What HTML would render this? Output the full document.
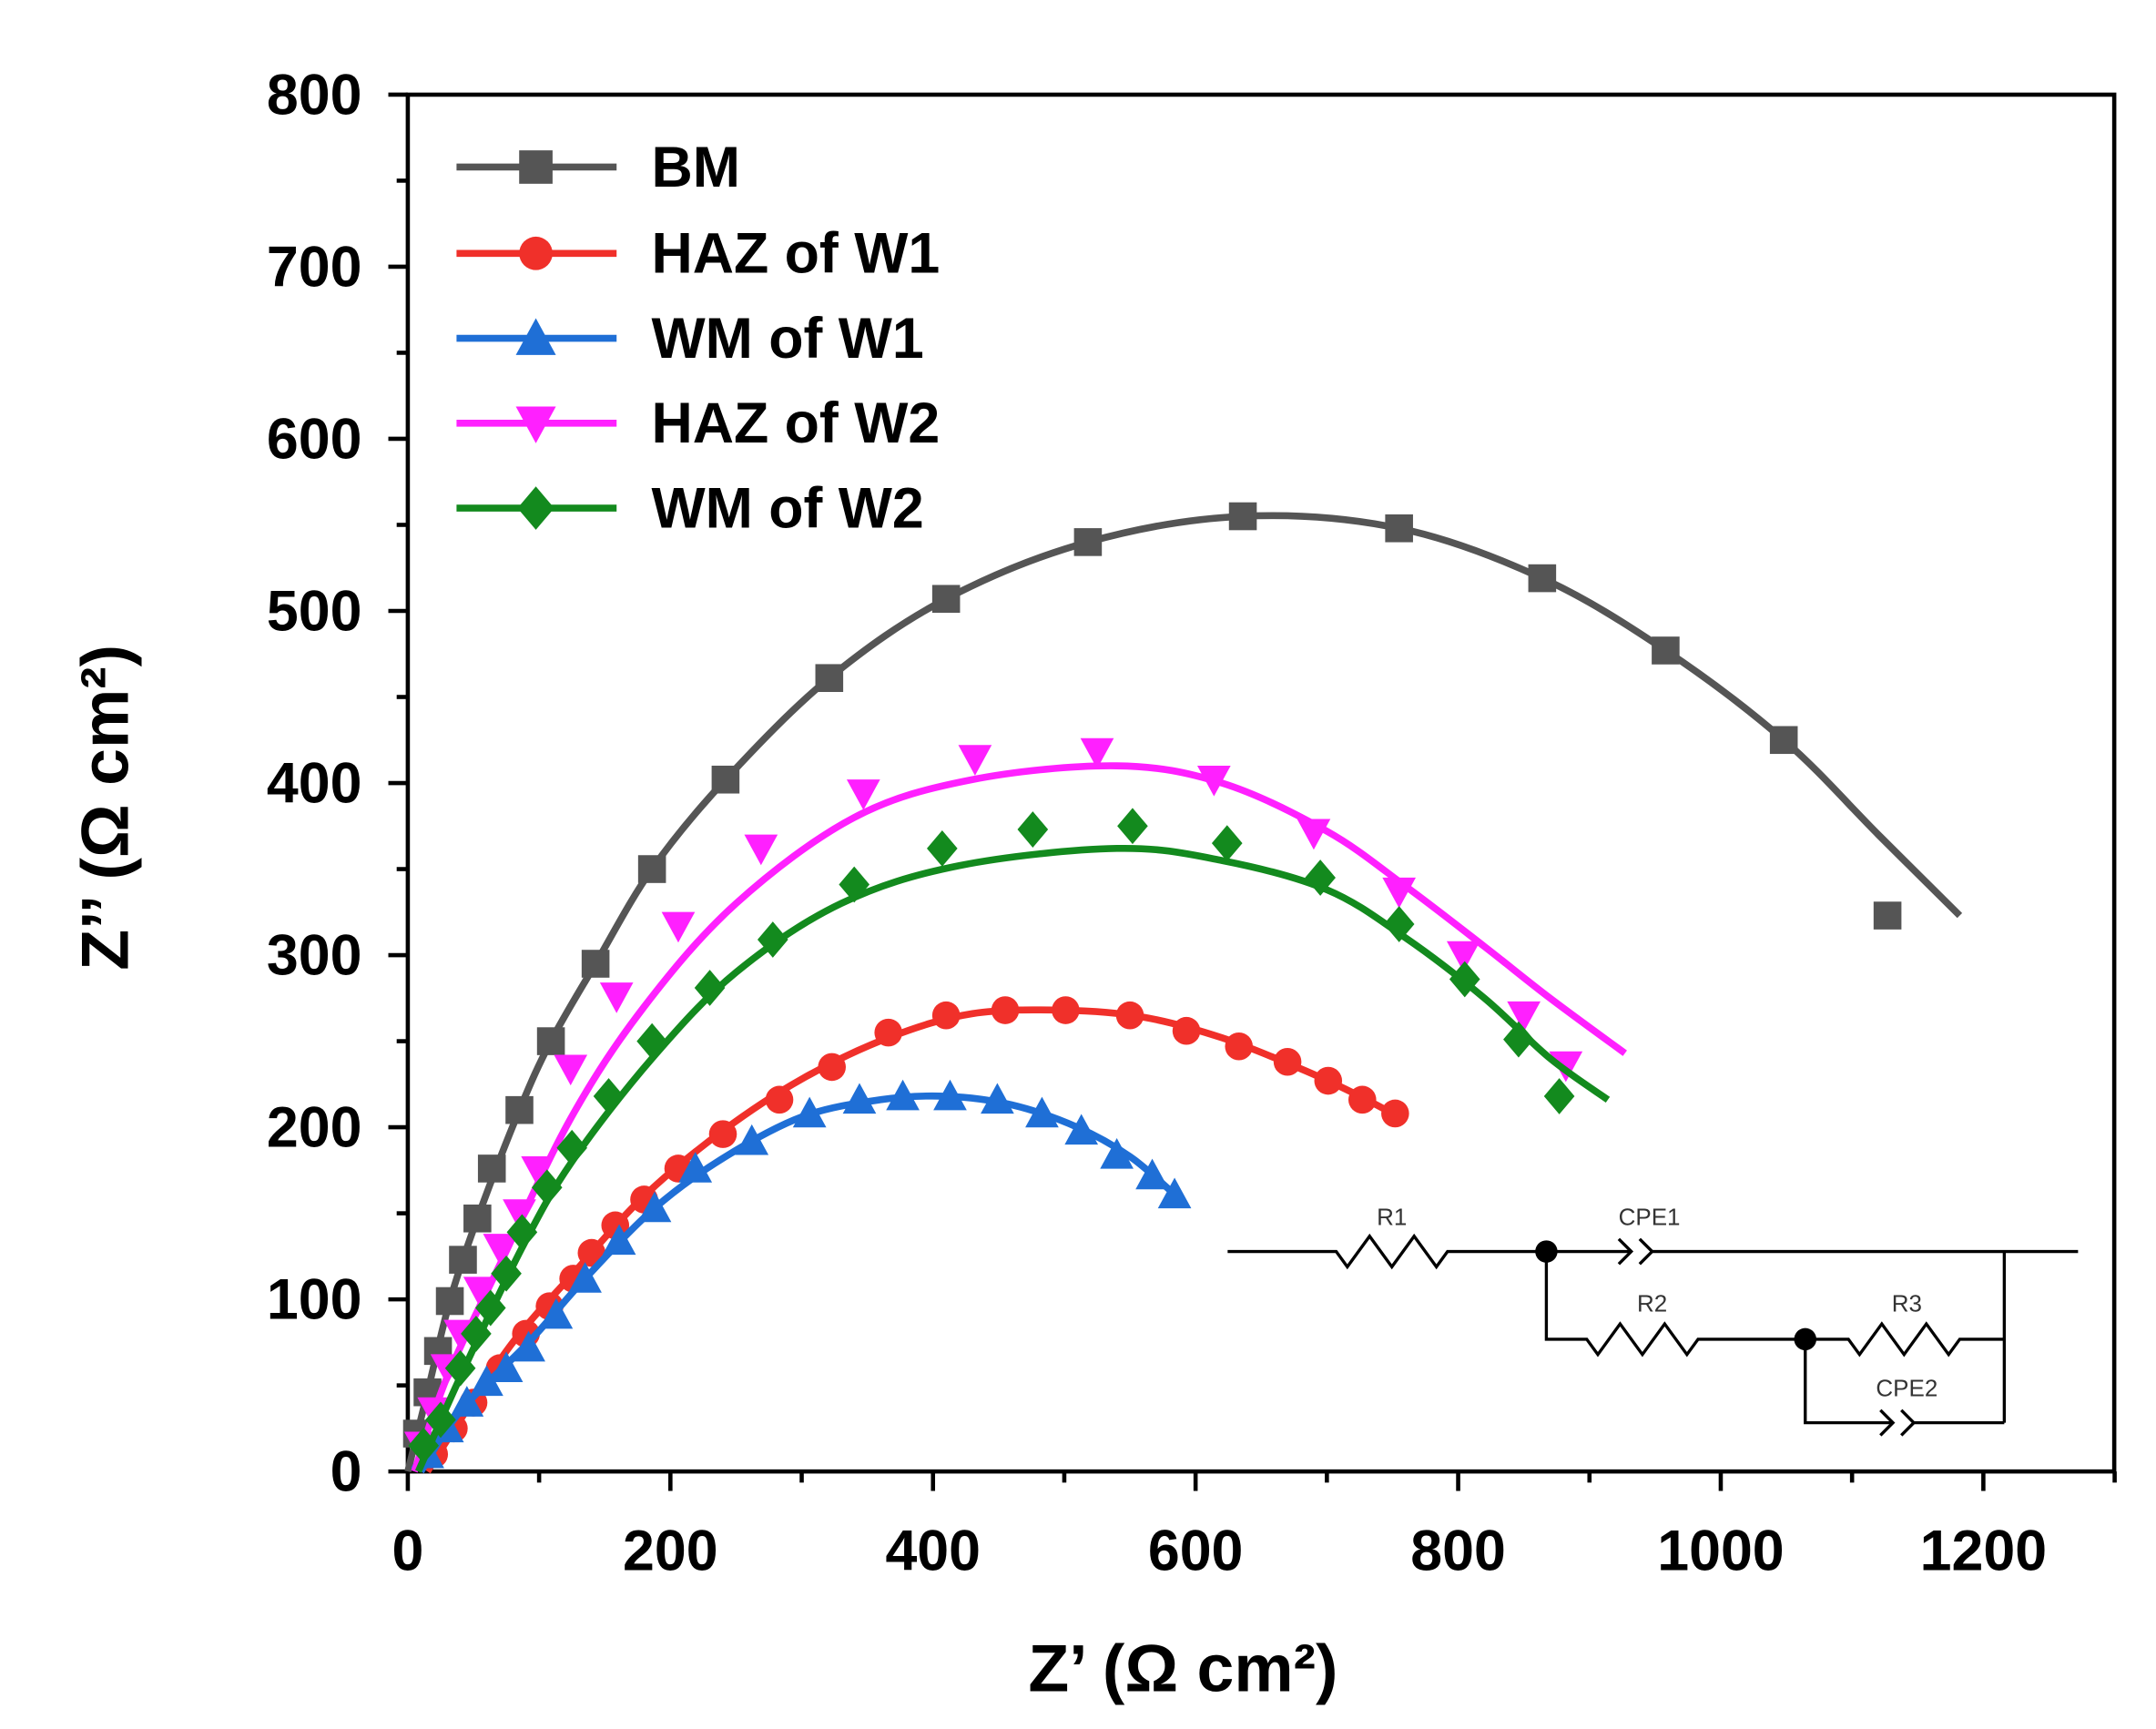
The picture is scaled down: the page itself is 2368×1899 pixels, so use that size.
<!DOCTYPE html>
<html><head><meta charset="utf-8">
<style>html,body{margin:0;padding:0;background:#fff;}svg{display:block;}</style>
</head><body>
<svg id="s" xmlns="http://www.w3.org/2000/svg" width="2368" height="1899" viewBox="0 0 1549 1242" preserveAspectRatio="none" font-family="Liberation Sans, Arial, sans-serif">
<rect width="1549" height="1242" fill="#fff"/>
<g id="axes"></g>
<g id="data"></g>
<g id="legend" font-weight="bold" font-size="41"></g>
<g stroke="#000" stroke-width="2.2" fill="none">
<polyline points="882,899 960,899 968,910 984,888 1000,910 1016,888 1032,910 1040,899 1172,899"/>
<path d="M1163,890 L1172,899 L1163,908 M1178,890 L1187,899 L1178,908"/>
<line x1="1187" y1="899" x2="1493" y2="899"/>
<line x1="1440" y1="899" x2="1440" y2="1022"/>
<polyline points="1111,899 1111,962 1140,962 1148,973 1164,951 1180,973 1196,951 1212,973 1220,962 1328,962 1336,973 1352,951 1368,973 1384,951 1400,973 1408,962 1440,962"/>
<polyline points="1297,962 1297,1022 1360,1022"/>
<path d="M1351,1013 L1360,1022 L1351,1031 M1366,1013 L1375,1022 L1366,1031"/>
<line x1="1375" y1="1022" x2="1440" y2="1022"/>
</g>
<circle cx="1111" cy="899" r="8" fill="#000"/>
<circle cx="1297" cy="962" r="8" fill="#000"/>
<g font-size="17" fill="#333" text-anchor="middle">
<text x="1000" y="880">R1</text><text x="1185" y="880">CPE1</text>
<text x="1187" y="942">R2</text><text x="1370" y="942">R3</text>
<text x="1370" y="1003">CPE2</text>
</g>
<text x="850" y="1215" font-size="48" font-weight="bold" text-anchor="middle">Z’ (Ω cm²)</text>
<text transform="translate(92,580) rotate(-90)" font-size="48" font-weight="bold" text-anchor="middle">Z’’ (Ω cm²)</text>
</svg>
<script>
var X=function(v){return 293+v*0.9433}, Y=function(v){return 1057-v*1.2363};
var ns="http://www.w3.org/2000/svg";
function el(p,t,a){var e=document.createElementNS(ns,t);for(var k in a)e.setAttribute(k,a[k]);p.appendChild(e);return e;}
var ax=document.getElementById('axes');
el(ax,'rect',{x:293,y:68,width:1226,height:989,fill:'none',stroke:'#000','stroke-width':3});
for(var v=0;v<=1300;v+=100){var x=X(v),maj=v%200==0;el(ax,'line',{x1:x,y1:1057,x2:x,y2:1057+(maj?14:8),stroke:'#000','stroke-width':3});
 if(maj){var t=el(ax,'text',{x:x,y:1128,'font-size':41,'font-weight':'bold','text-anchor':'middle'});t.textContent=v;}}
for(var v=0;v<=800;v+=50){var y=Y(v),maj=v%100==0;el(ax,'line',{x1:293,y1:y,x2:293-(maj?14:8),y2:y,stroke:'#000','stroke-width':3});
 if(maj){var t=el(ax,'text',{x:260,y:y+14,'font-size':41,'font-weight':'bold','text-anchor':'end'});t.textContent=v;}}
function marker(g,type,x,y,c,s){s=s||10;
 if(type=='sq')el(g,'rect',{x:x-s,y:y-s,width:2*s,height:2*s,fill:c});
 else if(type=='ci')el(g,'circle',{cx:x,cy:y,r:s,fill:c});
 else if(type=='up')el(g,'polygon',{points:[x,y-s*1.2,x+s*1.2,y+s,x-s*1.2,y+s].join(' '),fill:c});
 else if(type=='dn')el(g,'polygon',{points:[x-s*1.2,y-s,x+s*1.2,y-s,x,y+s*1.2].join(' '),fill:c});
 else if(type=='di')el(g,'polygon',{points:[x,y-s*1.3,x+s*1.1,y,x,y+s*1.3,x-s*1.1,y].join(' '),fill:c});}
function smooth(p){var d='M'+p[0][0]+','+p[0][1];for(var i=0;i<p.length-1;i++){var p0=p[i-1]||p[i],p1=p[i],p2=p[i+1],p3=p[i+2]||p2;
 d+=' C'+(p1[0]+(p2[0]-p0[0])/6)+','+(p1[1]+(p2[1]-p0[1])/6)+' '+(p2[0]-(p3[0]-p1[0])/6)+','+(p2[1]-(p3[1]-p1[1])/6)+' '+p2[0]+','+p2[1];}return d;}
var series=[
{c:'#555555',m:'sq',
 pts:[[7,22],[15,46],[23,70],[32,99],[42,123],[53,147],[64,176],[85,210],[109,250],[143,295],[186,350],[242,402],[321,461],[410,507],[518,540],[636,555],[755,548],[864,519],[958,477],[1048,425],[1127,323]],
 line:[[0,0],[15,46],[32,99],[53,147],[85,210],[109,250],[143,295],[186,350],[242,402],[321,461],[410,507],[518,540],[636,555],[755,548],[864,519],[958,477],[1048,425],[1120,370],[1182,323]]},
{c:'#f0302a',m:'ci',
 pts:[[20,10],[35,25],[50,40],[70,60],[90,80],[108,96],[126,112],[140,127],[158,143],[180,158],[206,176],[240,196],[283,216],[323,235],[366,255],[410,265],[455,268],[501,268],[550,265],[593,256],[633,247],[670,238],[701,227],[727,216],[752,208]],
 line:[[15,0],[40,30],[80,75],[126,115],[180,160],[240,198],[300,228],[366,252],[430,266],[500,268],[560,264],[620,252],[680,234],[720,220],[755,206]]},
{c:'#1f6fd6',m:'up',
 pts:[[15,10],[30,25],[45,40],[60,52],[75,60],[92,72],[113,91],[135,112],[161,134],[188,153],[219,176],[262,192],[306,208],[344,216],[377,218],[413,218],[449,216],[483,208],[513,198],[540,184],[567,172],[584,161]],
 line:[[10,0],[40,35],[92,75],[135,112],[188,153],[240,182],[300,206],[360,216],[410,218],[460,213],[510,200],[550,183],[584,161]]},
{c:'#ff20ff',m:'dn',
 pts:[[10,15],[20,35],[30,60],[40,80],[55,105],[70,130],[85,150],[99,175],[124,234],[159,276],[206,317],[269,362],[347,394],[432,414],[525,418],[614,402],[690,371],[755,337],[804,300],[850,265],[882,236]],
 line:[[5,0],[30,55],[70,120],[124,205],[180,270],[250,330],[340,380],[430,402],[540,410],[620,400],[700,372],[760,340],[820,305],[870,275],[927,243]]},
{c:'#138a1e',m:'di',
 pts:[[12,15],[25,30],[40,60],[52,80],[63,95],[75,115],[87,139],[106,165],[125,188],[153,218],[186,250],[230,281],[278,309],[340,341],[407,362],[476,373],[552,375],[624,365],[695,345],[755,318],[805,286],[846,251],[877,218]],
 line:[[8,0],[40,55],[87,130],[125,180],[186,240],[250,290],[330,330],[420,352],[540,362],[620,355],[700,338],[760,310],[820,275],[870,240],[914,216]]}
];
var dg=document.getElementById('data');
series.forEach(function(s){
 el(dg,'path',{d:smooth(s.line.map(function(p){return [X(p[0]),Y(p[1])];})),fill:'none',stroke:s.c,'stroke-width':5,'stroke-linejoin':'round'});
 s.pts.forEach(function(p){marker(dg,s.m,X(p[0]),Y(p[1]),s.c);});
});
var names=['BM','HAZ of W1','WM of W1','HAZ of W2','WM of W2'],ys=[120,182,243,304,365];
var lg=document.getElementById('legend');
series.forEach(function(s,i){
 el(lg,'line',{x1:328,y1:ys[i],x2:443,y2:ys[i],stroke:s.c,'stroke-width':5});
 marker(lg,s.m,385,ys[i],s.c,12);
 var t=el(lg,'text',{x:468,y:ys[i]+14});t.textContent=names[i];
});
</script>
</body></html>
